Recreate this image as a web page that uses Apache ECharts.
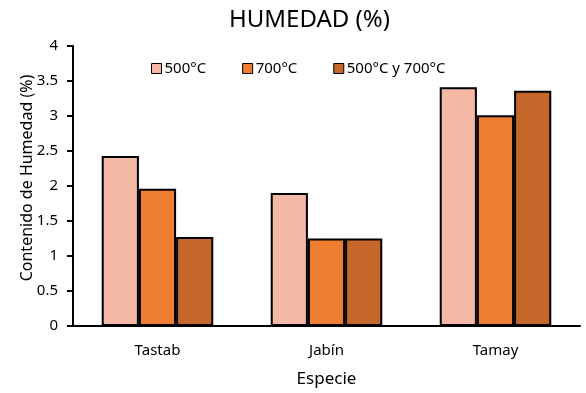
<!DOCTYPE html>
<html><head><meta charset="utf-8">
<script src="https://cdn.jsdelivr.net/npm/echarts@6/dist/echarts.min.js"></script>
<style>html,body{margin:0;padding:0;background:#fff}#c{width:586px;height:393px}</style>
</head><body><div id="c"></div>
<script>
const categories = ['Tastab', 'Jabín', 'Tamay'];
const s500 = [2.43, 1.90, 3.41];
const s700 = [1.96, 1.25, 3.01];
const s500y700 = [1.27, 1.25, 3.36];
const seriesNames = ['500°C', '700°C', '500°C y 700°C'];
const colors = ['#F4B9A5', '#ED7D31', '#C5672A'];
const font = 'Noto Sans, Open Sans, sans-serif';
const chart = echarts.init(document.getElementById('c'), null, {renderer: 'canvas'});
const mk = (name, data, color) => ({
  name, type: 'bar', data, barGap: '0%', barCategoryGap: '34%',
  itemStyle: {color, borderColor: '#000', borderWidth: 2}
});
chart.setOption({
  animation: false,
  title: {text: 'HUMEDAD (%)', left: 224, top: 3,
    textStyle: {fontFamily: font, fontSize: 24, fontWeight: 'normal', color: '#000'}},
  legend: {top: 56, left: 146, itemWidth: 10, itemHeight: 10, itemGap: 36,
    icon: 'rect',
    textStyle: {fontFamily: font, fontSize: 15, color: '#000', padding: [0,0,0,-2]},
    itemStyle: {borderColor: '#000', borderWidth: 1}},
  grid: {left: 73, right: 6, top: 46, bottom: 66},
  xAxis: {type: 'category', data: categories,
    name: 'Especie', nameLocation: 'middle', nameGap: 45,
    nameTextStyle: {fontFamily: font, fontSize: 17, color: '#000'},
    axisLine: {lineStyle: {color: '#000', width: 2}},
    axisTick: {show: false},
    axisLabel: {fontFamily: font, fontSize: 15, color: '#000', margin: 17}},
  yAxis: {type: 'value', min: 0, max: 4, interval: 0.5,
    name: 'Contenido de Humedad (%)', nameLocation: 'middle', nameGap: 38, nameMoveOverlap: false,
    nameTextStyle: {fontFamily: font, fontSize: 16, color: '#000', padding: [0, 0, 0, 16]},
    splitLine: {show: false},
    axisLine: {show: true, lineStyle: {color: '#000', width: 2}},
    axisTick: {show: true, length: 6, lineStyle: {color: '#000', width: 2}},
    axisLabel: {fontFamily: font, fontSize: 15, color: '#000', margin: 15}},
  series: [mk(seriesNames[0], s500, colors[0]), mk(seriesNames[1], s700, colors[1]), mk(seriesNames[2], s500y700, colors[2])]
});
</script></body></html>
